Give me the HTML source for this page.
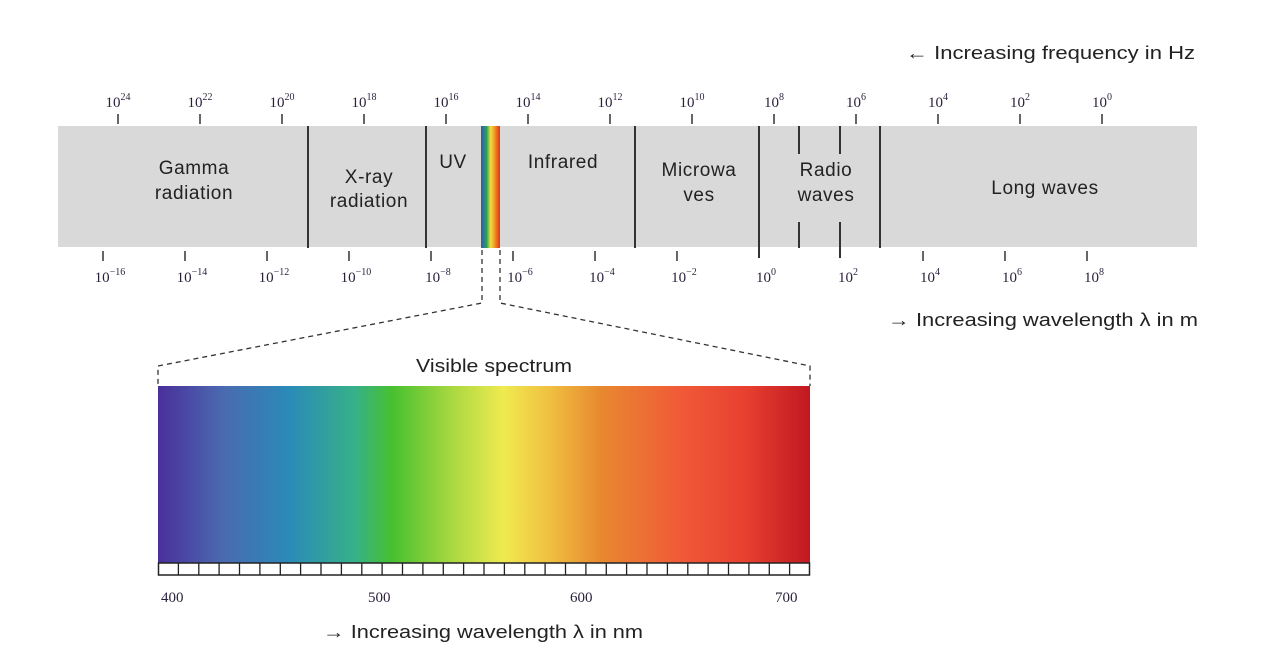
<!DOCTYPE html>
<html><head><meta charset="utf-8"><style>
html,body{margin:0;padding:0;background:#fff;}
svg{display:block;}
.s{font-family:"Liberation Sans",sans-serif;fill:#222;}
.t{font-family:"Liberation Serif",serif;fill:#2a1f3a;font-size:15px;}
.sup{font-size:10px;}
</style></head><body>
<svg width="1274" height="664" viewBox="0 0 1274 664" xmlns="http://www.w3.org/2000/svg">
<defs>
<linearGradient id="vis" x1="0" x2="1" y1="0" y2="0">
<stop offset="0" stop-color="#4a2f9a"/>
<stop offset="0.1" stop-color="#4a6ab0"/>
<stop offset="0.2" stop-color="#2a8ab8"/>
<stop offset="0.3" stop-color="#36b08a"/>
<stop offset="0.36" stop-color="#48c030"/>
<stop offset="0.45" stop-color="#a8d840"/>
<stop offset="0.53" stop-color="#f0ea50"/>
<stop offset="0.6" stop-color="#f0c040"/>
<stop offset="0.68" stop-color="#e88830"/>
<stop offset="0.8" stop-color="#f05a38"/>
<stop offset="0.9" stop-color="#e84030"/>
<stop offset="1" stop-color="#c01820"/>
</linearGradient>
<linearGradient id="rb" x1="0" x2="1">
<stop offset="0" stop-color="#2a5cc0"/><stop offset="0.3" stop-color="#30a050"/>
<stop offset="0.5" stop-color="#f0e040"/><stop offset="0.75" stop-color="#f08a20"/><stop offset="1" stop-color="#e03020"/>
</linearGradient>
</defs>
<text class="s" x="906" y="59" font-size="18" textLength="289" lengthAdjust="spacingAndGlyphs">← Increasing frequency in Hz</text>
<rect x="58" y="126" width="1139" height="121" fill="#d9d9d9"/>
<rect x="481" y="126" width="19" height="122" fill="url(#rb)"/>
<g stroke="#333" stroke-width="2">
<line x1="308" y1="126" x2="308" y2="248"/>
<line x1="426" y1="126" x2="426" y2="248"/>
<line x1="635" y1="126" x2="635" y2="248"/>
<line x1="759" y1="126" x2="759" y2="258"/>
<line x1="880" y1="126" x2="880" y2="248"/>
<line x1="799" y1="126" x2="799" y2="154"/>
<line x1="840" y1="126" x2="840" y2="154"/>
<line x1="799" y1="222" x2="799" y2="248"/>
<line x1="840" y1="222" x2="840" y2="258"/>
</g>
<g stroke="#333" stroke-width="1.5">
<line x1="118" y1="114" x2="118" y2="124"/><line x1="200" y1="114" x2="200" y2="124"/>
<line x1="282" y1="114" x2="282" y2="124"/><line x1="364" y1="114" x2="364" y2="124"/>
<line x1="446" y1="114" x2="446" y2="124"/><line x1="528" y1="114" x2="528" y2="124"/>
<line x1="610" y1="114" x2="610" y2="124"/><line x1="692" y1="114" x2="692" y2="124"/>
<line x1="774" y1="114" x2="774" y2="124"/><line x1="856" y1="114" x2="856" y2="124"/>
<line x1="938" y1="114" x2="938" y2="124"/><line x1="1020" y1="114" x2="1020" y2="124"/>
<line x1="1102" y1="114" x2="1102" y2="124"/>
<line x1="103" y1="251" x2="103" y2="261"/><line x1="185" y1="251" x2="185" y2="261"/>
<line x1="267" y1="251" x2="267" y2="261"/><line x1="349" y1="251" x2="349" y2="261"/>
<line x1="431" y1="251" x2="431" y2="261"/><line x1="513" y1="251" x2="513" y2="261"/>
<line x1="595" y1="251" x2="595" y2="261"/><line x1="677" y1="251" x2="677" y2="261"/>
<line x1="923" y1="251" x2="923" y2="261"/><line x1="1005" y1="251" x2="1005" y2="261"/>
<line x1="1087" y1="251" x2="1087" y2="261"/>
</g>
<g class="t" text-anchor="middle">
<text x="118" y="107">10<tspan class="sup" dy="-7">24</tspan></text>
<text x="200" y="107">10<tspan class="sup" dy="-7">22</tspan></text>
<text x="282" y="107">10<tspan class="sup" dy="-7">20</tspan></text>
<text x="364" y="107">10<tspan class="sup" dy="-7">18</tspan></text>
<text x="446" y="107">10<tspan class="sup" dy="-7">16</tspan></text>
<text x="528" y="107">10<tspan class="sup" dy="-7">14</tspan></text>
<text x="610" y="107">10<tspan class="sup" dy="-7">12</tspan></text>
<text x="692" y="107">10<tspan class="sup" dy="-7">10</tspan></text>
<text x="774" y="107">10<tspan class="sup" dy="-7">8</tspan></text>
<text x="856" y="107">10<tspan class="sup" dy="-7">6</tspan></text>
<text x="938" y="107">10<tspan class="sup" dy="-7">4</tspan></text>
<text x="1020" y="107">10<tspan class="sup" dy="-7">2</tspan></text>
<text x="1102" y="107">10<tspan class="sup" dy="-7">0</tspan></text>
<text x="110" y="282">10<tspan class="sup" dy="-7">−16</tspan></text>
<text x="192" y="282">10<tspan class="sup" dy="-7">−14</tspan></text>
<text x="274" y="282">10<tspan class="sup" dy="-7">−12</tspan></text>
<text x="356" y="282">10<tspan class="sup" dy="-7">−10</tspan></text>
<text x="438" y="282">10<tspan class="sup" dy="-7">−8</tspan></text>
<text x="520" y="282">10<tspan class="sup" dy="-7">−6</tspan></text>
<text x="602" y="282">10<tspan class="sup" dy="-7">−4</tspan></text>
<text x="684" y="282">10<tspan class="sup" dy="-7">−2</tspan></text>
<text x="766" y="282">10<tspan class="sup" dy="-7">0</tspan></text>
<text x="848" y="282">10<tspan class="sup" dy="-7">2</tspan></text>
<text x="930" y="282">10<tspan class="sup" dy="-7">4</tspan></text>
<text x="1012" y="282">10<tspan class="sup" dy="-7">6</tspan></text>
<text x="1094" y="282">10<tspan class="sup" dy="-7">8</tspan></text>
</g>
<g class="s" font-size="19" text-anchor="middle" letter-spacing="0.6">
<text x="194" y="174">Gamma</text><text x="194" y="199">radiation</text>
<text x="369" y="183">X-ray</text><text x="369" y="207">radiation</text>
<text x="453" y="168">UV</text>
<text x="563" y="168">Infrared</text>
<text x="699" y="176">Microwa</text><text x="699" y="201">ves</text>
<text x="826" y="176">Radio</text><text x="826" y="201">waves</text>
<text x="1045" y="194">Long waves</text>
</g>
<text class="s" x="888" y="326" font-size="18" textLength="310" lengthAdjust="spacingAndGlyphs">→ Increasing wavelength λ in m</text>
<g stroke="#333" stroke-width="1.3" stroke-dasharray="5,4" fill="none">
<polyline points="482,250 482,303 158,366 158,386"/>
<polyline points="500,250 500,303 810,366 810,386"/>
</g>
<text class="s" x="416" y="372" font-size="18" textLength="156" lengthAdjust="spacingAndGlyphs">Visible spectrum</text>
<rect x="158" y="386" width="652" height="177" fill="url(#vis)"/>
<rect x="158.5" y="563" width="651" height="12" fill="#fff" stroke="#222" stroke-width="1.5"/>
<path d="M178.4 563v12M198.8 563v12M219.1 563v12M239.5 563v12M259.9 563v12M280.3 563v12M300.6 563v12M321 563v12M341.4 563v12M361.8 563v12M382.1 563v12M402.5 563v12M422.9 563v12M443.3 563v12M463.6 563v12M484 563v12M504.4 563v12M524.8 563v12M545.1 563v12M565.5 563v12M585.9 563v12M606.3 563v12M626.6 563v12M647 563v12M667.4 563v12M687.8 563v12M708.1 563v12M728.5 563v12M748.9 563v12M769.3 563v12M789.6 563v12" stroke="#222" stroke-width="1.3"/>
<g class="t" font-size="16">
<text x="161" y="602">400</text>
<text x="368" y="602">500</text>
<text x="570" y="602">600</text>
<text x="775" y="602">700</text>
</g>
<text class="s" x="323" y="638" font-size="18" textLength="320" lengthAdjust="spacingAndGlyphs">→ Increasing wavelength λ in nm</text>
</svg>
</body></html>
